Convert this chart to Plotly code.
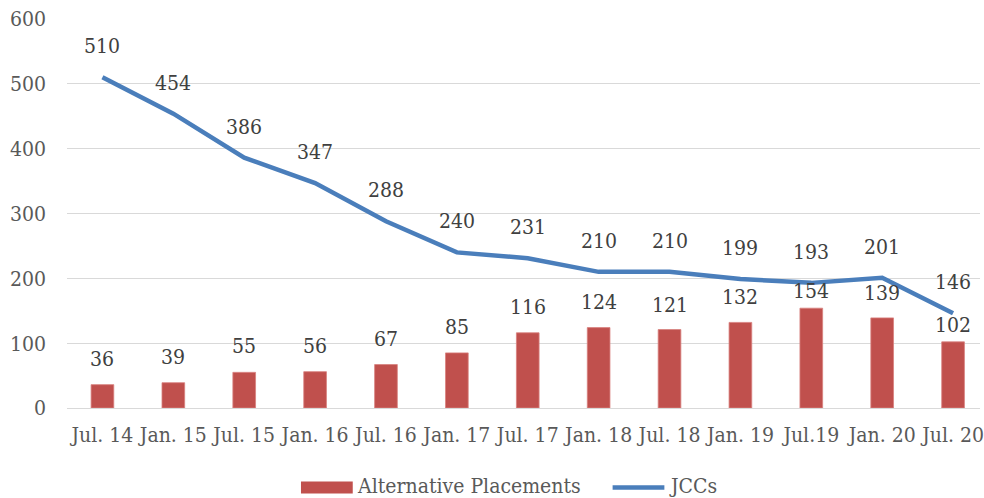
import plotly.graph_objects as go

# Half-yearly counts
periods = ["Jul. 14", "Jan. 15", "Jul. 15", "Jan. 16", "Jul. 16", "Jan. 17", "Jul. 17",
           "Jan. 18", "Jul. 18", "Jan. 19", "Jul.19", "Jan. 20", "Jul. 20"]
alternative_placements = [36, 39, 55, 56, 67, 85, 116, 124, 121, 132, 154, 139, 102]
jccs = [510, 454, 386, 347, 288, 240, 231, 210, 210, 199, 193, 201, 146]

# Per-label vertical offsets (px) for the bar value labels
bar_label_shift = [26, 26, 26, 26, 26, 26, 26, 26, 25, 25, 17, 25, 17]

W, H = 984, 498
ML, MR, MT, MB = 67, 0, 19, 90
FONT = "DejaVu Serif Condensed, DejaVu Serif"
FS = 21
RED = "#C0504D"
BLUE = "#4A7EBB"

x_idx = list(range(len(periods)))

fig = go.Figure()
fig.add_trace(go.Bar(
    x=x_idx, y=alternative_placements, name="Alternative Placements",
    marker=dict(color=RED, line=dict(color="#D8807E", width=0.8)),
    width=0.32, showlegend=False,
))
fig.add_trace(go.Scatter(
    x=x_idx, y=jccs, name="JCCs", mode="lines",
    line=dict(color=BLUE, width=4.5), showlegend=False,
))

annotations = []
for i, v in enumerate(alternative_placements):
    annotations.append(dict(x=i, y=v, xref="x", yref="y", text=str(v), showarrow=False,
                            yshift=bar_label_shift[i], yanchor="middle",
                            font=dict(family=FONT, size=FS, color="#404040")))
for i, v in enumerate(jccs):
    annotations.append(dict(x=i, y=v, xref="x", yref="y", text=str(v), showarrow=False,
                            yshift=31, yanchor="middle",
                            font=dict(family=FONT, size=FS, color="#404040")))

# Legend drawn at the bottom in paper coordinates
pw, ph = W - ML - MR, H - MT - MB
def px(xp):
    return (xp - ML) / pw
def py(yp):
    return (H - MB - yp) / ph

shapes = [
    dict(type="rect", xref="paper", yref="paper", x0=px(302), x1=px(354),
         y0=py(493.5), y1=py(481.5), fillcolor=RED, line=dict(width=0)),
    dict(type="line", xref="paper", yref="paper", x0=px(615), x1=px(667),
         y0=py(487.5), y1=py(487.5), line=dict(color=BLUE, width=4.5)),
]
annotations.append(dict(xref="paper", yref="paper", x=px(356), y=py(486), text="Alternative Placements",
                        showarrow=False, xanchor="left", yanchor="middle",
                        font=dict(family=FONT, size=FS, color="#595959")))
annotations.append(dict(xref="paper", yref="paper", x=px(670), y=py(486), text="JCCs",
                        showarrow=False, xanchor="left", yanchor="middle",
                        font=dict(family=FONT, size=FS, color="#595959")))

fig.update_layout(
    width=W, height=H,
    margin=dict(l=ML, r=MR, t=MT, b=MB, pad=0),
    paper_bgcolor="white", plot_bgcolor="white",
    showlegend=False,
    annotations=annotations,
    shapes=shapes,
    font=dict(family=FONT, size=FS, color="#595959"),
)
fig.update_xaxes(
    tickmode="array", tickvals=x_idx, ticktext=periods,
    range=[-0.5, 12.38], showgrid=False, zeroline=False, showline=False,
    ticks="", ticklabelstandoff=12, ticklabeloverflow="allow", tickangle=0,
    tickfont=dict(family=FONT, size=FS, color="#595959"),
)
fig.update_yaxes(
    range=[0, 600], dtick=100, showgrid=True, gridcolor="#D9D9D9", gridwidth=1,
    zeroline=True, zerolinecolor="#D9D9D9", zerolinewidth=1, showline=False,
    ticks="", ticklabelstandoff=20,
    tickfont=dict(family=FONT, size=FS, color="#595959"),
)

fig.write_html("out.html")
